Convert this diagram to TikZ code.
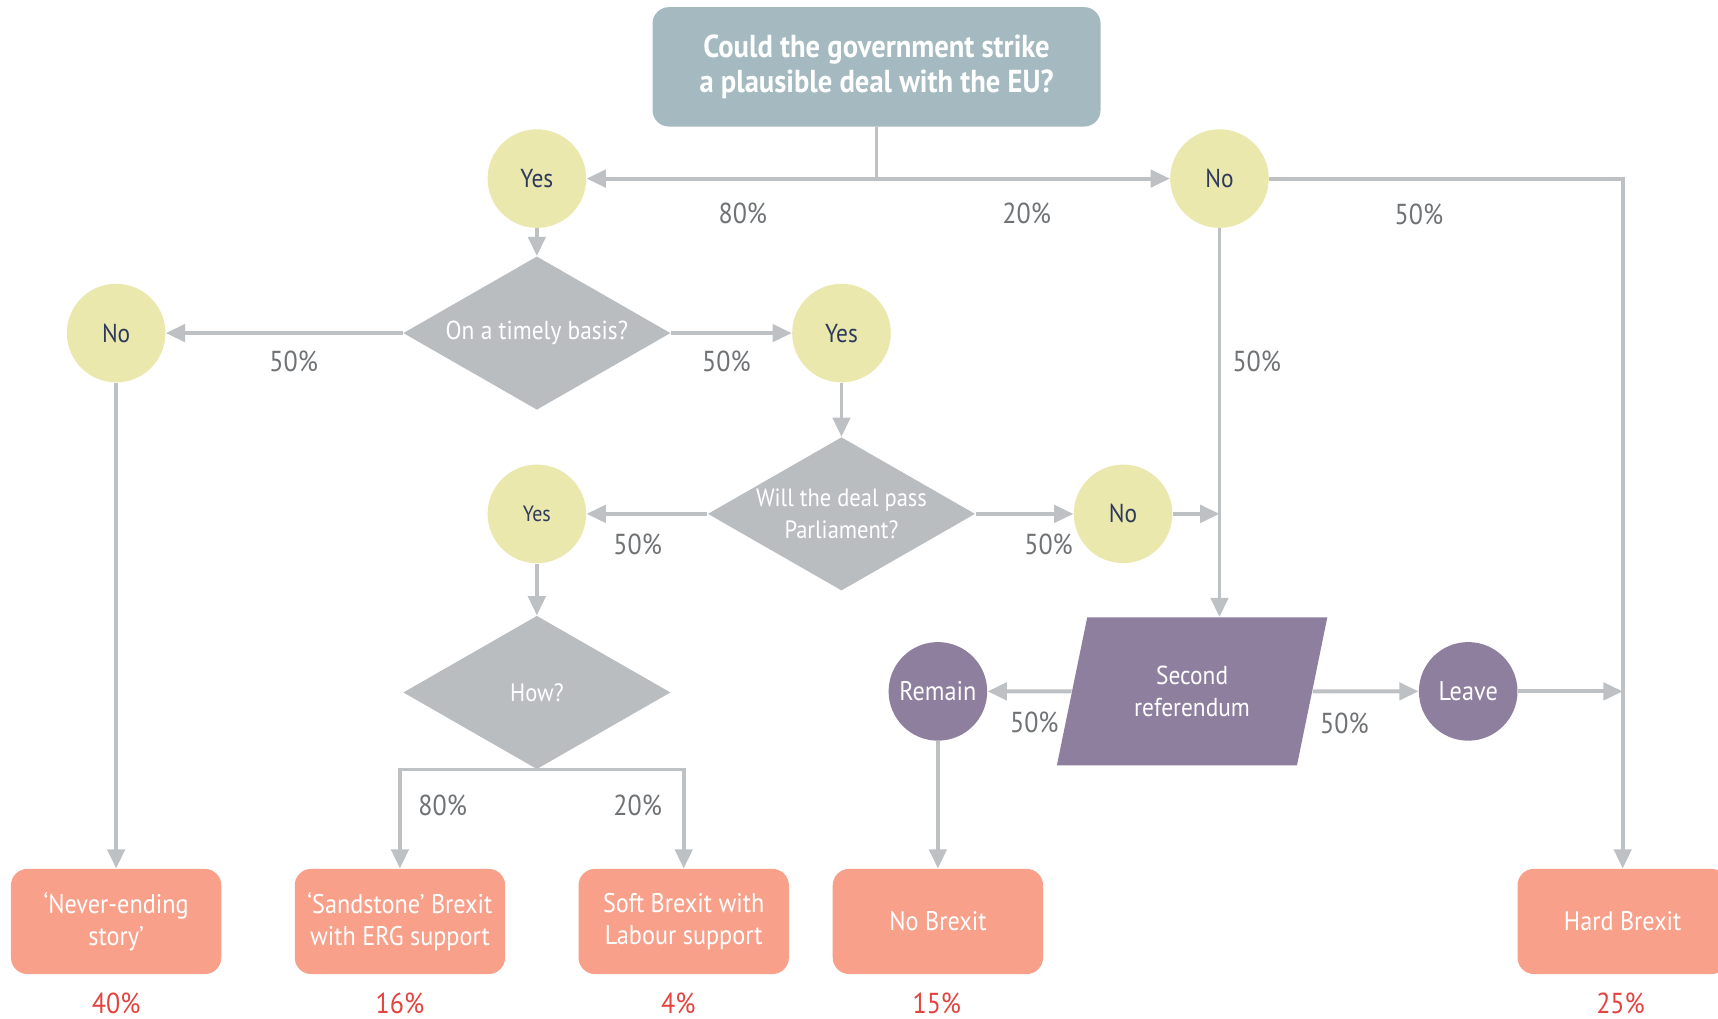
\documentclass[tikz,border=0pt]{standalone}
\usepackage{fontspec}
\setmainfont[FakeStretch=0.9]{PT Sans}
\usetikzlibrary{shapes.geometric}
\usetikzlibrary{arrows.meta}
\usetikzlibrary{positioning}
\definecolor{qbox}{HTML}{A4BAC0}
\definecolor{yesno}{HTML}{EBE8AE}
\definecolor{ink}{HTML}{2E3A5C}
\definecolor{dgrey}{HTML}{BABDC0}
\definecolor{lgrey}{HTML}{BEC1C4}
\definecolor{pct}{HTML}{707376}
\definecolor{refcol}{HTML}{8E7F9E}
\definecolor{outc}{HTML}{F8A08A}
\definecolor{prob}{HTML}{E4443F}

\begin{document}
\begin{tikzpicture}[x=0.02cm,y=-0.02cm,
	start/.style={rectangle,rounded corners=0.3cm,fill=qbox,text=white,minimum width=8.18cm,minimum height=2.18cm,align=center,font=\fontsize{16.5}{18.5}\selectfont\bfseries},
	answer/.style={circle,fill=yesno,text=ink,minimum size=1.8cm,inner sep=0pt,font=\fontsize{13.5}{15}\selectfont},
	vote/.style={circle,fill=refcol,text=white,minimum size=1.8cm,inner sep=0pt,font=\fontsize{14}{15}\selectfont},
	question/.style={diamond,shape aspect=1.74,fill=dgrey,text=white,minimum width=4.88cm,minimum height=2.8cm,inner sep=-4pt,align=center,font=\fontsize{13}{17}\selectfont},
	ballot/.style={trapezium,trapezium left angle=72,trapezium right angle=108,trapezium stretches=true,fill=refcol,text=white,minimum width=4.94cm,minimum height=2.7cm,inner sep=0pt,align=center,font=\fontsize{13.5}{17}\selectfont},
	outcome/.style={rectangle,rounded corners=0.3cm,fill=outc,text=white,minimum width=3.84cm,minimum height=1.92cm,align=center,font=\fontsize{14}{16.5}\selectfont},
	pc/.style={text=pct,font=\fontsize{15}{16}\selectfont},
	share/.style={text=prob,inner sep=0pt,font=\fontsize{15}{16}\selectfont},
	wire/.style={draw=lgrey,line width=2pt},
	link/.style={wire,-{Triangle[length=10pt,width=9pt]}},
	]
	\useasboundingbox[fill=white] (0,0) rectangle (1568,930);
	% questions and answers
	\node[start] (deal) at (800,61) {Could the government strike\\a plausible deal with the EU?};
	\node[answer] (yes1) at (490,163) {Yes};
	\node[answer] (no1) at (1113,163) {No};
	\node[question,font=\fontsize{13.5}{17}\selectfont] (timely) at (490,304) {On a timely basis?};
	\node[answer] (no2) at (106,304) {No};
	\node[answer] (yes2) at (768,304) {Yes};
	\node[question] (pass) at (768,469) {Will the deal pass\\Parliament?};
	\node[answer,font=\fontsize{11.5}{13}\selectfont] (yes3) at (490,469) {Yes};
	\node[answer] (no3) at (1025,469) {No};
	\node[question] (how) at (490,632) {How?};
	\node[ballot] (second) at (1088,631) {Second\\referendum};
	\node[vote] (remain) at (856,631) {Remain};
	\node[vote] (leave) at (1340,631) {Leave};
	% outcomes
	\node[outcome] (never) at (106,841) {`Never-ending\\story'};
	\node[outcome] (sand) at (365,841) {`Sandstone' Brexit\\with ERG support};
	\node[outcome] (soft) at (624,841) {Soft Brexit with\\Labour support};
	\node[outcome] (nobrexit) at (856,841) {No Brexit};
	\node[outcome] (hard) at (1481,841) {Hard Brexit};
	\node[share] (s1) at (106,916) {40\%};
	\node[share] (s2) at (365,916) {16\%};
	\node[share] (s3) at (619,916) {4\%};
	\node[share] (s4) at (855,916) {15\%};
	\node[share] (s5) at (1479,916) {25\%};
	% connectors
	\coordinate (split) at (800,163);
	\draw[wire] (deal) -- (split);
	\draw[link] (split) -- (yes1);
	\draw[link] (split) -- (no1);
	\draw[link] (no1) -| (hard);
	\draw[link] (no1.south) -- (no1.south |- second.north);
	\draw[link] (yes1) -- (timely);
	\draw[link] (timely) -- (no2);
	\draw[link] (timely) -- (yes2);
	\draw[link] (no2) -- (never);
	\draw[link] (yes2) -- (pass);
	\draw[link] (pass) -- (yes3);
	\draw[link] (pass) -- (no3);
	\draw[link] (no3.east) -- (no3.east -| no1.south);
	\draw[link] (yes3) -- (how);
	\draw[link] (how.south) -| (sand);
	\draw[link] (how.south) -| (soft);
	\draw[link] (second) -- (remain);
	\draw[link] (second) -- (leave);
	\draw[link] (leave.east) -- (leave.east -| hard.north);
	\draw[link] (remain) -- (nobrexit);
	% percentages
	\node[pc] (p1) at (678,195) {80\%};
	\node[pc] (p2) at (937,195) {20\%};
	\node[pc] (p3) at (1295,196) {50\%};
	\node[pc] (p4) at (1147,330) {50\%};
	\node[pc] (p5) at (268,330) {50\%};
	\node[pc] (p6) at (663,330) {50\%};
	\node[pc] (p7) at (582,497) {50\%};
	\node[pc] (p8) at (957,497) {50\%};
	\node[pc] (p9) at (404,735) {80\%};
	\node[pc] (p10) at (582,735) {20\%};
	\node[pc] (p11) at (944,659) {50\%};
	\node[pc] (p12) at (1227,660) {50\%};
\end{tikzpicture}
\end{document}
